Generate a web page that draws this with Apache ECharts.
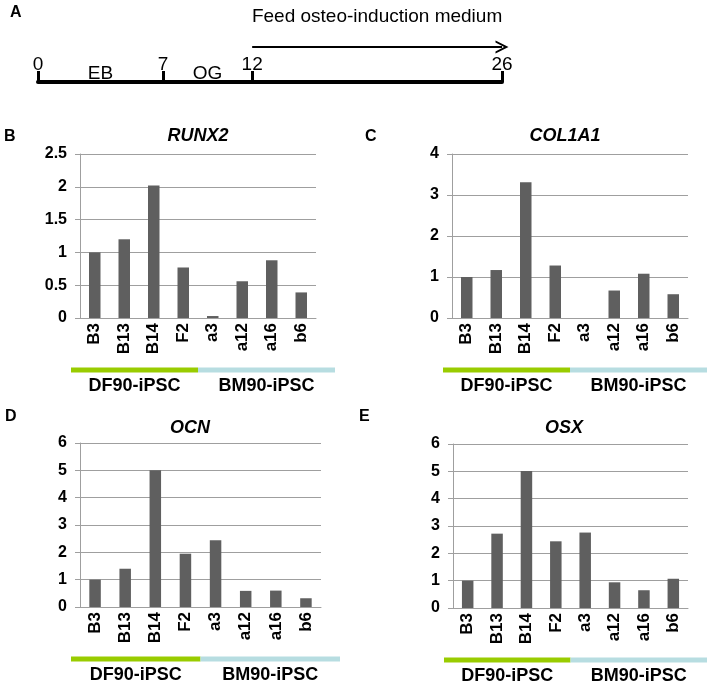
<!DOCTYPE html>
<html>
<head>
<meta charset="utf-8">
<script src="https://cdn.jsdelivr.net/npm/echarts@6/dist/echarts.min.js"></script>
<style>
  html, body { margin: 0; padding: 0; background: #fff; }
  #chart { width: 712px; height: 690px; }
</style>
</head>
<body>
<div id="chart"></div>
<script>
// ---------------- data ----------------
const categories = ['B3', 'B13', 'B14', 'F2', 'a3', 'a12', 'a16', 'b6'];
const runx2  = [1.00, 1.20, 2.02, 0.77, 0.03, 0.56, 0.88, 0.39];
const col1a1 = [1.00, 1.17, 3.31, 1.28, 0.00, 0.67, 1.08, 0.58];
const ocn    = [1.00, 1.40, 5.00, 1.95, 2.44, 0.59, 0.60, 0.32];
const osx    = [1.00, 2.72, 5.01, 2.44, 2.76, 0.94, 0.65, 1.07];

const groupNames = ['DF90-iPSC', 'BM90-iPSC'];
const groupFirst = [0, 4];   // first category index of each group
const groupLast  = [3, 7];   // last category index of each group

const timelineDays = [0, 7, 12, 26];
const phaseNames = ['EB', 'OG'];
const phaseFrom  = [0, 7];
const phaseTo    = [7, 12];
const feedFrom = 12, feedTo = 26;
const feedText = 'Feed osteo-induction medium';

// ---------------- styles / layout ----------------
const FONT = "'Liberation Sans', Arial, Helvetica, sans-serif";
const GRAY = '#9f9f9f';
const BAR = '#5f5f5f';
const groupColors = ['#99cc00', '#b7dde1'];

const panels = [
  { letter: 'B', title: 'RUNX2',  values: runx2,  max: 2.5, interval: 0.5,
    grid: { left: 80,  top: 154, width: 236, height: 164 }, letterPos: [4, 129],   titleX: 198, titleTop: 128 },
  { letter: 'C', title: 'COL1A1', values: col1a1, max: 4,   interval: 1,
    grid: { left: 452, top: 154, width: 236, height: 164 }, letterPos: [365, 129], titleX: 565, titleTop: 128 },
  { letter: 'D', title: 'OCN',    values: ocn,    max: 6,   interval: 1,
    grid: { left: 80,  top: 443, width: 241, height: 164 }, letterPos: [5, 409],   titleX: 190, titleTop: 420 },
  { letter: 'E', title: 'OSX',    values: osx,    max: 6,   interval: 1,
    grid: { left: 453, top: 444, width: 235, height: 164 }, letterPos: [359, 409], titleX: 564, titleTop: 420 }
];

const chart = echarts.init(document.getElementById('chart'), null, { renderer: 'canvas' });

const grids = [{ left: 38, top: 12, width: 464, height: 70 }];
const xAxes = [{
  gridIndex: 0, type: 'value', min: 0, max: 26,
  axisLine: { show: true, lineStyle: { color: '#000', width: 4 } },
  axisTick: { show: true, inside: true, length: 11, customValues: timelineDays, lineStyle: { color: '#000', width: 3 } },
  axisLabel: { show: true, inside: true, margin: 8, customValues: timelineDays,
    color: '#000', fontFamily: FONT, fontSize: 19 },
  splitLine: { show: false }
}];
const yAxes = [{ gridIndex: 0, type: 'value', min: 0, max: 1, show: false }];
const titles = [{ text: 'A', left: 10, top: 5, padding: 0,
  textStyle: { fontFamily: FONT, fontSize: 16, fontWeight: 'bold', color: '#000' } }];
const series = [];

// timeline arrow
series.push({
  type: 'lines', coordinateSystem: 'cartesian2d', xAxisIndex: 0, yAxisIndex: 0,
  clip: false,
  symbol: ['none', 'path://M0,10 L5,0 L10,10 L8.4,10 L5,3.4 L1.6,10 Z'],
  symbolSize: 13,
  lineStyle: { color: '#000', width: 2, opacity: 1 },
  label: { show: true, position: 'insideMiddleTop', distance: 21, formatter: feedText,
    color: '#000', fontFamily: FONT, fontSize: 19 },
  data: [{ coords: [[feedFrom, 0.5], [feedTo, 0.5]] }],
  silent: true
});
// phase labels
series.push({
  type: 'scatter', xAxisIndex: 0, yAxisIndex: 0, symbolSize: 1,
  itemStyle: { color: '#ffffff', opacity: 1 },
  label: { show: true, position: 'inside', formatter: p => phaseNames[p.dataIndex],
    color: '#000000', fontFamily: FONT, fontSize: 19, opacity: 1 },
  data: phaseNames.map((n, i) => [(phaseFrom[i] + phaseTo[i]) / 2, 0.12]),
  silent: true
});

panels.forEach((p, k) => {
  const gi = k + 1;
  grids.push(p.grid);
  titles.push({ text: p.letter, left: p.letterPos[0], top: p.letterPos[1], padding: 0,
    textStyle: { fontFamily: FONT, fontSize: 16, fontWeight: 'bold', color: '#000' } });
  titles.push({ text: p.title, left: p.titleX, top: p.titleTop - 1, textAlign: 'center', padding: 0,
    textStyle: { fontFamily: FONT, fontSize: 18, fontWeight: 'bold', fontStyle: 'italic', color: '#000' } });
  xAxes.push({
    gridIndex: gi, type: 'category', data: categories,
    axisLine: { show: true, lineStyle: { color: GRAY, width: 1 } },
    axisTick: { show: false },
    axisLabel: { interval: 0, rotate: 90, margin: 5, color: '#000',
      fontFamily: FONT, fontSize: 17, fontWeight: 'bold' }
  });
  yAxes.push({
    gridIndex: gi, type: 'value', min: 0, max: p.max, interval: p.interval,
    axisLine: { show: true, lineStyle: { color: GRAY, width: 1 } },
    axisTick: { show: true, length: 5, lineStyle: { color: GRAY } },
    axisLabel: { margin: 13, color: '#000', fontFamily: FONT, fontSize: 16, fontWeight: 'bold' },
    splitLine: { show: true, lineStyle: { color: GRAY, width: 1 } }
  });
  series.push({
    type: 'bar', xAxisIndex: gi, yAxisIndex: gi, data: p.values,
    barWidth: 11.5, itemStyle: { color: BAR }, silent: true
  });
  series.push({
    type: 'custom', xAxisIndex: gi, yAxisIndex: gi, clip: false, silent: true,
    data: groupNames.map((n, i) => [i, 0]),
    renderItem: function (params, api) {
      const g = api.value(0);
      const bw = api.size([1, 0])[0];
      let x0 = api.coord([groupFirst[g], 0])[0] - bw / 2;
      let x1 = api.coord([groupLast[g], 0])[0] + bw / 2;
      if (g === 0) x0 -= 9;
      if (g === groupNames.length - 1) x1 += 19;
      const yb = api.coord([0, 0])[1];
      return {
        type: 'group',
        children: [
          { type: 'rect', shape: { x: x0, y: yb + 49.5, width: x1 - x0, height: 5 },
            style: { fill: groupColors[g] } },
          { type: 'text', x: (x0 + x1) / 2, y: yb + 68,
            style: { text: groupNames[g], align: 'center', verticalAlign: 'middle',
              font: 'bold 18px ' + FONT, fill: '#000' } }
        ]
      };
    }
  });
});

chart.setOption({
  animation: false,
  backgroundColor: '#fff',
  title: titles,
  grid: grids,
  xAxis: xAxes,
  yAxis: yAxes,
  series: series
});
</script>
</body>
</html>
